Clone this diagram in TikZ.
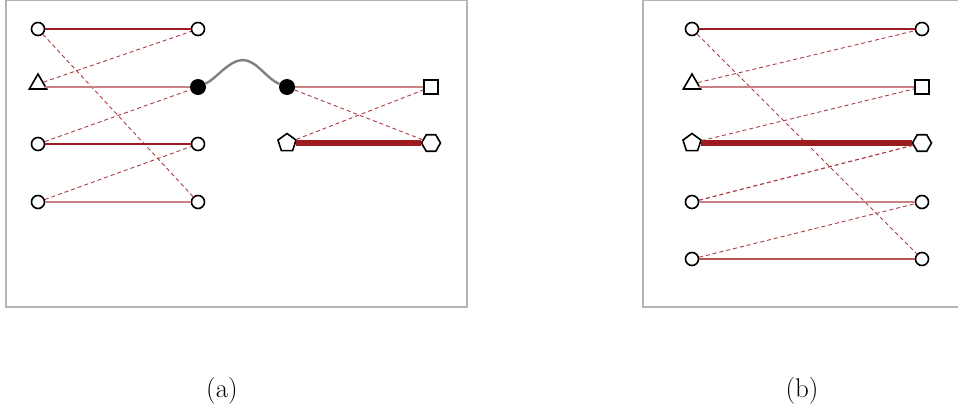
\documentclass[tikz,border=0pt]{standalone}
\usepackage{fontspec}
\usetikzlibrary{shapes.geometric}
\definecolor{edgered}{HTML}{9B1B1F}
\definecolor{framegray}{HTML}{B4B4B4}
\newcommand{\capsize}{\fontsize{27}{32}\selectfont}

\begin{document}
\begin{tikzpicture}[x=1pt,y=-1pt,
   vtx/.style={draw=black,line width=1.6pt,fill=white,inner sep=0pt},
   circ/.style={vtx,circle,minimum size=13pt},
   tri/.style={vtx,regular polygon,regular polygon sides=3,minimum size=20pt},
   pent/.style={vtx,regular polygon,regular polygon sides=5,minimum size=19pt},
   hexa/.style={vtx,regular polygon,regular polygon sides=6,minimum size=19pt},
   sq/.style={vtx,rectangle,minimum size=13.5pt},
   blackdot/.style={circle,fill=black,inner sep=0pt,minimum size=16pt},
   strong/.style={draw=edgered,line width=1.2pt},
   weak/.style={draw=edgered!55,line width=1.6pt},
   cross/.style={draw=edgered!85,line width=0.9pt,dash pattern=on 4pt off 3pt},
   fat/.style={draw=edgered,line width=6pt},
   frame/.style={draw=framegray,line width=1.2pt},
   subcap/.style={inner sep=0pt}]
   \useasboundingbox (0,0) rectangle (958,408);
   \draw[frame] (6,0.6) rectangle (467,307);
   \draw[frame] (643,0.6) rectangle (970,307);

   % (a)
   \node[circ] (l1) at (38,29) {};
   \node[tri]  (l2) at (38,84) {};
   \node[circ] (l3) at (38,144) {};
   \node[circ] (l4) at (38,202) {};
   \node[circ] (r1) at (198,29) {};
   \node[blackdot] (r2) at (198,87) {};
   \node[circ] (r3) at (198,144) {};
   \node[circ] (r4) at (198,202) {};
   \node[blackdot] (m2) at (287,87) {};
   \node[pent] (m3) at (287,143) {};
   \node[sq]   (e2) at (431,87) {};
   \node[hexa] (e3) at (431,143) {};
   \coordinate (peak) at (243,60);

   \draw[strong] (l1) -- (r1);
   \draw[cross] (l1) -- (r4);
   \draw[cross] (l2) -- (r1);
   \draw[weak] (l2.east |- r2) -- (r2);
   \draw[cross] (l3) -- (r2);
   \draw[strong] (l3) -- (r3);
   \draw[cross] (l4) -- (r3);
   \draw[weak] (l4) -- (r4);
   \draw[gray,line width=2.4pt] (r2) .. controls (216,79) and (229,60) .. (peak)
      .. controls (256,60) and (267,79) .. (m2);
   \draw[weak] (m2) -- (e2);
   \draw[cross] (m2) -- (e3);
   \draw[cross] (m3) -- (e2);
   \draw[fat] (m3) -- (e3);

   % (b)
   \node[circ] (bl1) at (692,29) {};
   \node[tri]  (bl2) at (692,84) {};
   \node[pent] (bl3) at (692,143) {};
   \node[circ] (bl4) at (692,202) {};
   \node[circ] (bl5) at (692,259) {};
   \node[circ] (br1) at (922,29) {};
   \node[sq]   (br2) at (922,87) {};
   \node[hexa] (br3) at (922,143) {};
   \node[circ] (br4) at (922,202) {};
   \node[circ] (br5) at (922,259) {};

   \draw[strong] (bl1) -- (br1);
   \draw[cross] (bl1) -- (br5);
   \draw[cross] (bl2) -- (br1);
   \draw[weak] (bl2.east |- br2) -- (br2);
   \draw[cross] (bl3) -- (br2);
   \draw[fat] (bl3) -- (br3);
   \draw[cross,line width=1.2pt] (bl4) -- (br3);
   \draw[weak] (bl4) -- (br4);
   \draw[cross] (bl5) -- (br4);
   \draw[strong,draw=edgered!75] (bl5) -- (br5);

   \node[subcap] (capa) at (222,391) {\capsize (a)};
   \node[subcap] (capb) at (802,391) {\capsize (b)};
\end{tikzpicture}
\end{document}
